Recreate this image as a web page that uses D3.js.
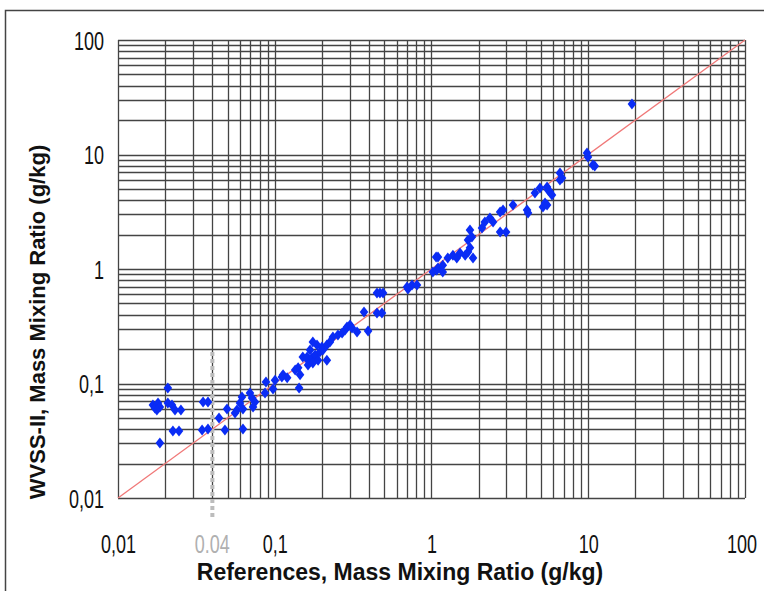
<!DOCTYPE html>
<html>
<head>
<meta charset="utf-8">
<script src="https://cdn.jsdelivr.net/npm/d3@7"></script>
<style>
  html, body { margin: 0; padding: 0; background: #fff; }
  svg { display: block; }
</style>
</head>
<body>
<svg id="chart" width="764" height="591"></svg>
<script>
// ---- data ----
const xTickValues = [0.01, 0.1, 1, 10, 100];
const xTickLabels = ["0,01", "0,1", "1", "10", "100"];
const yTickValues = [0.01, 0.1, 1, 10, 100];
const yTickLabels = ["0,01", "0,1", "1", "10", "100"];
const markerValue = 0.04;
const markerLabel = "0.04";
const xTitle = "References, Mass Mixing Ratio (g/kg)";
const yTitle = "WVSS-II, Mass Mixing Ratio (g/kg)";

// reference values (x) and WVSS-II values (y)
const refValues = [
  0.0167, 0.0172, 0.0180, 0.0185, 0.0177, 0.0208, 0.0208, 0.0221, 0.0231, 0.0252,
  0.0224, 0.0245, 0.0185, 0.0349, 0.0375, 0.0344, 0.0375, 0.0441, 0.0481, 0.0496,
  0.0558, 0.0574, 0.0600, 0.0618, 0.0627, 0.0627, 0.0695, 0.0716, 0.0748, 0.0727,
  0.0867, 0.0879, 0.0975, 0.1004, 0.113, 0.120, 0.111, 0.141, 0.145, 0.143,
  0.135, 0.151, 0.163, 0.168, 0.175, 0.186, 0.161, 0.173, 0.181, 0.194,
  0.203, 0.189, 0.163, 0.175, 0.215, 0.200, 0.215, 0.225, 0.235, 0.253,
  0.269, 0.281, 0.289, 0.302, 0.311, 0.335, 0.371, 0.394, 0.449, 0.469,
  0.449, 0.483, 0.491, 0.708, 0.751, 0.808, 0.698, 1.02, 1.10, 1.10,
  1.18, 1.18, 1.08, 1.07, 1.27, 1.37, 1.45, 1.52, 1.64, 1.71,
  1.76, 1.84, 1.71, 1.76, 1.81, 2.10, 2.19, 2.36, 2.47, 2.74,
  2.99, 2.74, 2.86, 3.31, 4.07, 4.13, 4.57, 4.92, 5.46, 5.70,
  5.87, 5.14, 5.46, 5.30, 6.60, 6.80, 6.60, 9.82, 9.96, 10.7,
  11.0, 19.0, 5.54
];
const wvssValues = [
  0.0649, 0.0611, 0.0676, 0.0624, 0.0587, 0.0914, 0.0676, 0.0649, 0.0587, 0.0587,
  0.0385, 0.0385, 0.0302, 0.0689, 0.0689, 0.0393, 0.0400, 0.0500, 0.0393, 0.0599,
  0.0553, 0.0587, 0.0676, 0.0762, 0.0599, 0.0400, 0.0826, 0.0747, 0.0689, 0.0624,
  0.0826, 0.103, 0.0895, 0.107, 0.119, 0.112, 0.114, 0.137, 0.119, 0.0914,
  0.131, 0.170, 0.160, 0.196, 0.230, 0.217, 0.170, 0.167, 0.177, 0.188,
  0.196, 0.160, 0.145, 0.151, 0.160, 0.208, 0.217, 0.230, 0.255, 0.265,
  0.276, 0.293, 0.311, 0.324, 0.305, 0.282, 0.421, 0.287, 0.617, 0.617,
  0.413, 0.413, 0.617, 0.669, 0.725, 0.725, 0.697, 0.942, 1.02, 1.27,
  0.942, 1.08, 0.98, 1.27, 1.25, 1.32, 1.25, 1.38, 1.32, 1.41,
  1.53, 1.25, 1.79, 2.19, 1.90, 2.28, 2.57, 2.79, 2.57, 2.10,
  2.10, 3.15, 3.27, 3.62, 3.27, 3.08, 4.61, 5.10, 5.20, 4.70,
  4.43, 3.48, 3.62, 3.77, 6.89, 6.23, 5.99, 10.3, 9.51, 8.09,
  7.94, 27.6, 4.90
];

// ---- drawing ----
const svg = d3.select("#chart");
const x = d3.scaleLog().domain([0.01, 100]).range([118, 745]);
const y = d3.scaleLog().domain([0.01, 100]).range([498, 40]);

// outer frame
svg.append("path")
  .attr("d", "M5.5,600 L5.5,10.5 L770,10.5")
  .attr("fill", "none").attr("stroke", "#444").attr("stroke-width", 1.5);

// grid values (1..9 per decade)
const gridVals = [];
for (let e = -2; e <= 1; e++) for (let k = 1; k <= 9; k++) gridVals.push(k * Math.pow(10, e));
gridVals.push(100);

const grid = svg.append("g");
grid.selectAll("line.v").data(gridVals).enter().append("line")
  .attr("x1", d => Math.round(x(d)) + 0.5).attr("x2", d => Math.round(x(d)) + 0.5)
  .attr("y1", y(100)).attr("y2", y(0.01))
  .attr("stroke", "#444").attr("stroke-width", 1.3);
grid.selectAll("line.h").data(gridVals).enter().append("line")
  .attr("y1", d => Math.round(y(d)) + 0.5).attr("y2", d => Math.round(y(d)) + 0.5)
  .attr("x1", x(0.01)).attr("x2", x(100))
  .attr("stroke", "#444").attr("stroke-width", 1.3);

// 1:1 line
svg.append("line")
  .attr("x1", x(0.01)).attr("y1", y(0.01))
  .attr("x2", x(100)).attr("y2", y(100))
  .attr("stroke", "#f07878").attr("stroke-width", 1.3);

// 0.04 marker dashed line
svg.append("line")
  .attr("x1", x(markerValue)).attr("x2", x(markerValue))
  .attr("y1", 352).attr("y2", 520)
  .attr("stroke", "#bcbcbc").attr("stroke-width", 4)
  .attr("stroke-dasharray", "4,3");

// points (diamonds)
const pts = refValues.map((v, i) => ({ x: v, y: wvssValues[i] }));
svg.append("g").selectAll("path").data(pts).enter().append("path")
  .attr("transform", d => `translate(${x(d.x)},${y(d.y)})`)
  .attr("d", "M0,-5.5 L4.3,0 L0,5.5 L-4.3,0 Z")
  .attr("fill", "#0a2cf5");

// axes
const tickFont = "'Liberation Sans', Arial, sans-serif";
const tickSize = 25;
const squeeze = "scale(0.72,1)";
const xAxis = d3.axisBottom(x).tickValues(xTickValues)
  .tickFormat((d, i) => xTickLabels[i]).tickSize(0).tickPadding(0);
const gx = svg.append("g").attr("transform", "translate(0,553)").call(xAxis);
gx.select(".domain").remove();
gx.selectAll("text").attr("font-family", tickFont).attr("font-size", tickSize)
  .attr("fill", "#111").attr("y", 0).attr("dy", 0).attr("transform", squeeze);
gx.selectAll(".tick").filter((d) => d === 100)
  .attr("transform", `translate(${x(100) - 3},0)`);

const yAxis = d3.axisLeft(y).tickValues(yTickValues)
  .tickFormat((d, i) => yTickLabels[i]).tickSize(0).tickPadding(0);
const gy = svg.append("g").attr("transform", "translate(104,1)").call(yAxis);
gy.select(".domain").remove();
gy.selectAll("text").attr("font-family", tickFont).attr("font-size", tickSize)
  .attr("fill", "#111").attr("transform", squeeze);

// 0.04 label
svg.append("g").attr("transform", `translate(${x(markerValue)},553)`)
  .append("text")
  .attr("text-anchor", "middle")
  .attr("transform", squeeze)
  .attr("font-family", tickFont).attr("font-size", tickSize)
  .attr("fill", "#b0b0b0").text(markerLabel);

// titles
svg.append("text")
  .attr("x", 400).attr("y", 580)
  .attr("text-anchor", "middle")
  .attr("font-family", "'Liberation Sans', Arial, sans-serif")
  .attr("font-weight", "bold").attr("font-size", 23)
  .attr("fill", "#111").text(xTitle);

svg.append("text")
  .attr("transform", "translate(45,322) rotate(-90)")
  .attr("text-anchor", "middle")
  .attr("font-family", "'Liberation Sans', Arial, sans-serif")
  .attr("font-weight", "bold").attr("font-size", 22)
  .attr("fill", "#111").text(yTitle);
</script>
</body>
</html>
